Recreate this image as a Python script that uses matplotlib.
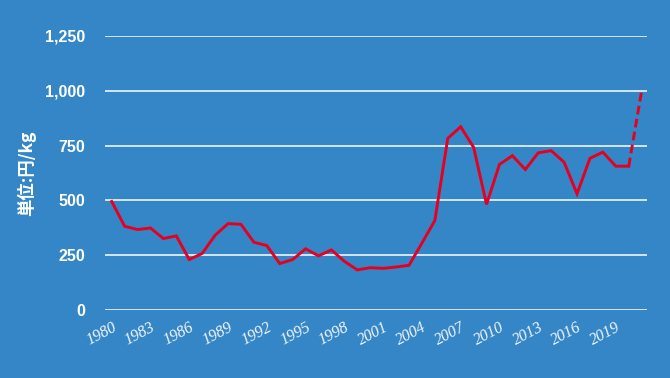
import matplotlib
matplotlib.use("Agg")
import matplotlib.pyplot as plt

years = list(range(1980, 2022))
prices = [495, 382, 367, 374, 326, 338, 230, 258, 341, 394,
          391, 309, 294, 212, 230, 279, 247, 274, 222, 183,
          193, 190, 196, 204, 305, 408, 783, 836, 742, 482,
          664, 704, 641, 717, 727, 674, 530, 692, 720, 656,
          656, 1000]
tick_years = list(range(1980, 2020, 3))
y_ticks = [0, 250, 500, 750, 1000, 1250]
y_label = "単位:円/kg"

bg = "#3486C6"
red = "#E60020"

fig = plt.figure(figsize=(6.7, 3.78), dpi=100, facecolor=bg)
ax = fig.add_axes([0.1567, 0.1799, 0.8085, 0.7249], facecolor=bg)

# solid part up to 2020, dashed last segment
ax.plot(years[:-1], prices[:-1], color=red, lw=2.1, solid_joinstyle="miter", zorder=3)
ax.plot(years[-2:], prices[-2:], color=red, lw=2.1, ls=(0, (3.0, 1.5)), zorder=3)

ax.set_ylim(0, 1250)
ax.set_xlim(1979.48, 2021.39)
ax.set_yticks(y_ticks)
ax.set_yticklabels([f"{v:,}" for v in y_ticks], fontsize=11.5, fontweight="bold",
                   color="white", family="Liberation Sans")
ax.set_xticks(tick_years)
ax.set_xticklabels([str(y) for y in tick_years], rotation=28, ha="right",
                   rotation_mode="anchor", fontsize=11.5, style="italic",
                   color="#F2F6FB", family="Liberation Serif")
ax.tick_params(axis="y", length=0, pad=14)
ax.tick_params(axis="x", length=0, pad=7)
ax.grid(axis="y", color="white", lw=1.1)
ax.grid(axis="x", visible=False)
for s in ax.spines.values():
    s.set_visible(False)
ax.set_axisbelow(True)

ax.set_ylabel(y_label, color="white", fontsize=12.5, fontweight="bold",
              family=["Noto Sans CJK JP", "DejaVu Sans"])
ax.yaxis.set_label_coords(-0.128, 0.5)

fig.savefig("out.png", dpi=100, facecolor=bg)
